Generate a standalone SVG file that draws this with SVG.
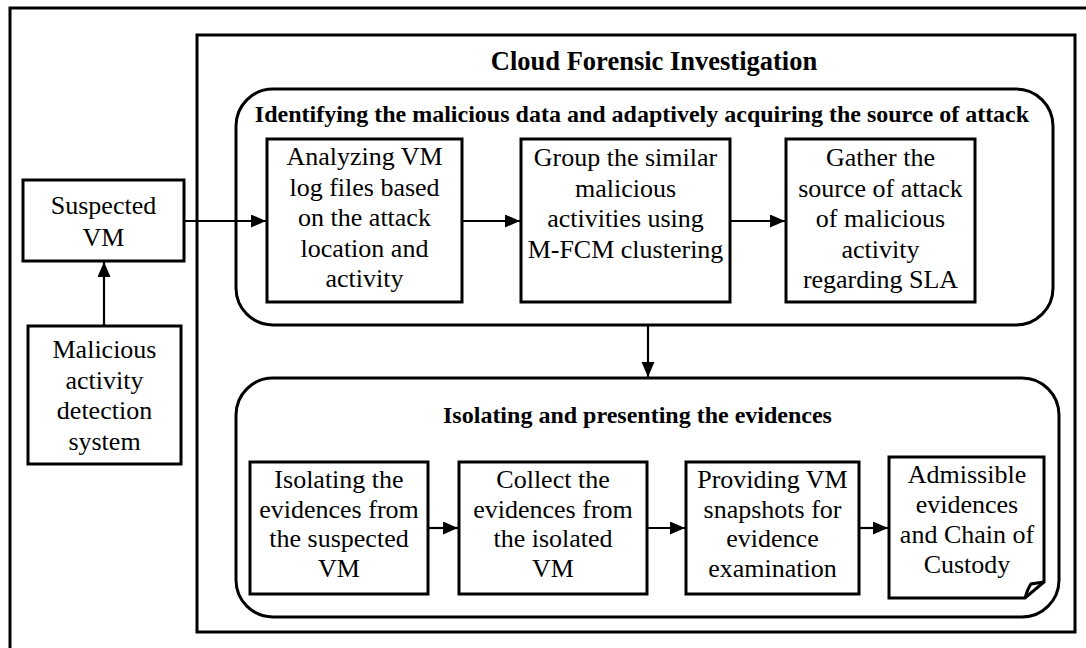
<svg xmlns="http://www.w3.org/2000/svg" width="1086" height="648" viewBox="0 0 1086 648">
<style>
.box{fill:#fff;stroke:#000;stroke-width:3}
.frame{fill:none;stroke:#000;stroke-width:3}
.t{font-family:"Liberation Serif","Times New Roman",serif;font-size:26px;text-anchor:middle;fill:#000}
.b{font-family:"Liberation Serif","Times New Roman",serif;font-weight:bold;text-anchor:middle;fill:#000}
.c{fill:none;stroke:#000;stroke-width:2.2}
</style>
<defs>
<marker id="ah" markerUnits="userSpaceOnUse" markerWidth="16" markerHeight="14" refX="15" refY="6.5" orient="auto">
<path d="M0,0 L15,6.5 L0,13 z" fill="#000"/>
</marker>
</defs>
<rect width="1086" height="648" fill="#fff"/>
<path class="frame" d="M10,648 V8 H1086"/>
<g id="cloud-forensic">
<rect class="frame" x="197" y="35" width="878" height="597"/>
<text class="b" x="654" y="70" font-size="26.5">Cloud Forensic Investigation</text>
</g>
<g id="group-identify">
<rect class="frame" x="236" y="89" width="817" height="236" rx="37"/>
<text class="b" x="642" y="122" font-size="24">Identifying the malicious data and adaptively acquiring the source of attack</text>
</g>
<g id="group-isolate">
<rect class="frame" x="236" y="378" width="823" height="239" rx="37"/>
<text class="b" x="637.5" y="423" font-size="24">Isolating and presenting the evidences</text>
</g>
<g id="suspected-vm">
<rect class="box" x="23" y="180" width="161" height="81"/>
<text class="t" x="103.5" y="214">Suspected</text>
<text class="t" x="103.5" y="246">VM</text>
</g>
<g id="detection-system">
<rect class="box" x="28" y="326" width="153" height="138"/>
<text class="t" x="104.5" y="358">Malicious</text>
<text class="t" x="104.5" y="388.5">activity</text>
<text class="t" x="104.5" y="419">detection</text>
<text class="t" x="104.5" y="449.5">system</text>
</g>
<g id="analyze">
<rect class="box" x="267" y="139" width="195" height="163"/>
<text class="t" x="364.5" y="165">Analyzing VM</text>
<text class="t" x="364.5" y="195.5">log files based</text>
<text class="t" x="364.5" y="226">on the attack</text>
<text class="t" x="364.5" y="256.5">location and</text>
<text class="t" x="364.5" y="287">activity</text>
</g>
<g id="group-similar">
<rect class="box" x="521" y="139" width="209" height="163"/>
<text class="t" x="625.5" y="166">Group the similar</text>
<text class="t" x="625.5" y="196.5">malicious</text>
<text class="t" x="625.5" y="227">activities using</text>
<text class="t" x="625.5" y="257.5">M-FCM clustering</text>
</g>
<g id="gather-source">
<rect class="box" x="786" y="139" width="189" height="163"/>
<text class="t" x="880.5" y="166">Gather the</text>
<text class="t" x="880.5" y="196.5">source of attack</text>
<text class="t" x="880.5" y="227">of malicious</text>
<text class="t" x="880.5" y="257.5">activity</text>
<text class="t" x="880.5" y="288">regarding SLA</text>
</g>
<g id="isolate-evidence">
<rect class="box" x="250" y="462" width="178" height="132"/>
<text class="t" x="339" y="488">Isolating the</text>
<text class="t" x="339" y="517.5">evidences from</text>
<text class="t" x="339" y="547">the suspected</text>
<text class="t" x="339" y="576.5">VM</text>
</g>
<g id="collect-evidence">
<rect class="box" x="459" y="462" width="188" height="132"/>
<text class="t" x="553" y="488">Collect the</text>
<text class="t" x="553" y="517.5">evidences from</text>
<text class="t" x="553" y="547">the isolated</text>
<text class="t" x="553" y="576.5">VM</text>
</g>
<g id="vm-snapshots">
<rect class="box" x="686" y="462" width="173" height="132"/>
<text class="t" x="772.5" y="488">Providing VM</text>
<text class="t" x="772.5" y="517.5">snapshots for</text>
<text class="t" x="772.5" y="547">evidence</text>
<text class="t" x="772.5" y="576.5">examination</text>
</g>
<g id="admissible-evidence">
<path class="box" d="M889,457 H1044 V582 L1025,598 H889 Z"/>
<path class="frame" d="M1025,598 Q1028,588 1031,584 L1044,582"/>
<text class="t" x="967" y="483">Admissible</text>
<text class="t" x="967" y="513">evidences</text>
<text class="t" x="967" y="543">and Chain of</text>
<text class="t" x="967" y="573">Custody</text>
</g>
<g id="connectors">
<line class="c" x1="104" y1="326" x2="104" y2="262" marker-end="url(#ah)"/>
<line class="c" x1="184" y1="221" x2="266" y2="221" marker-end="url(#ah)"/>
<line class="c" x1="462" y1="221" x2="520" y2="221" marker-end="url(#ah)"/>
<line class="c" x1="730" y1="221" x2="785" y2="221" marker-end="url(#ah)"/>
<line class="c" x1="648" y1="325" x2="648" y2="377" marker-end="url(#ah)"/>
<line class="c" x1="428" y1="528" x2="458" y2="528" marker-end="url(#ah)"/>
<line class="c" x1="647" y1="528" x2="685" y2="528" marker-end="url(#ah)"/>
<line class="c" x1="859" y1="528" x2="888" y2="528" marker-end="url(#ah)"/>
</g>
</svg>
